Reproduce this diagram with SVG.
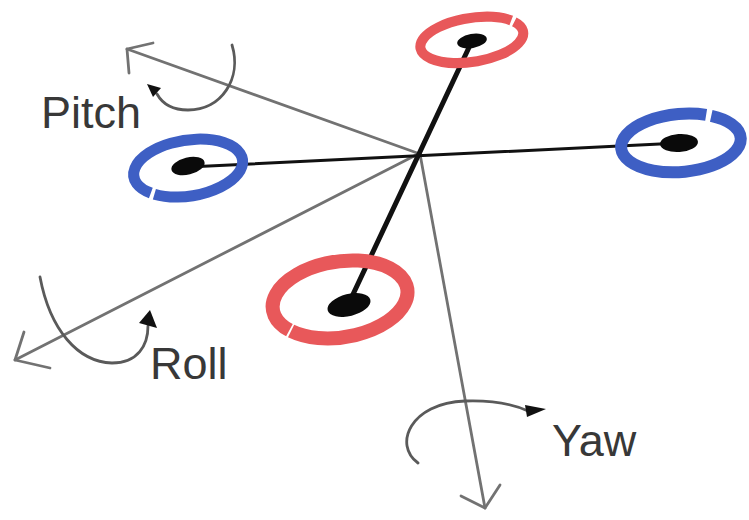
<svg xmlns="http://www.w3.org/2000/svg" width="749" height="520" viewBox="0 0 749 520">
  <style>
    .axis { fill: none; stroke: #727272; stroke-width: 2.8; stroke-linecap: round; stroke-linejoin: round; }
    .turn { fill: none; stroke: #5a5a5a; stroke-width: 2.8; stroke-linecap: round; }
    .tip { fill: #111; }
    .arm { stroke: #111; stroke-linecap: round; }
    .ring-red { fill: none; stroke: #e8585a; }
    .ring-blue { fill: none; stroke: #3e5fc4; }
    .hub { fill: #0a0a0a; }
    .label { font-family: "Liberation Sans", Arial, sans-serif; font-size: 45px; fill: #383838; }
  </style>
  <rect width="749" height="520" fill="#ffffff"/>

  <!-- body axes and rotation arrows -->
  <g id="connectors">
    <!-- pitch axis -->
    <line class="axis" x1="420" y1="154" x2="127" y2="49"/>
    <polyline class="axis" points="153,43 127,49 129,73"/>
    <!-- roll axis -->
    <line class="axis" x1="420" y1="153" x2="15" y2="360"/>
    <polyline class="axis" points="24,332 15,360 50,368"/>
    <!-- yaw axis -->
    <line class="axis" x1="420" y1="154" x2="485" y2="508"/>
    <polyline class="axis" points="461,496 485,508 500,485"/>

    <!-- pitch rotation -->
    <path class="turn" d="M232,45 C242,78 222,110 188,110 C172,110 162,103 157,94"/>
    <polygon class="tip" points="147,84 161,88 153,97"/>
    <!-- roll rotation -->
    <path class="turn" d="M40,277 C50,330 78,362 112,363 C138,363 148,345 148,326"/>
    <polygon class="tip" points="150,310 157,328 139,323"/>
    <!-- yaw rotation -->
    <path class="turn" d="M418,463 C393,445 410,403 465,401 C495,400 515,405 528,411"/>
    <polygon class="tip" points="525,405 546,409 527,417"/>

    <!-- airframe arms -->
    <line class="arm" x1="188" y1="167" x2="680" y2="143" stroke-width="3"/>
    <line class="arm" x1="472" y1="41" x2="348" y2="305" stroke-width="5"/>
  </g>

  <!-- rotors -->
  <g id="rotor-front">
    <g transform="translate(472,40) rotate(-9)">
      <path class="ring-red" stroke-width="10" d="M44.6,-11.3 A52,22 0 1 1 41.8,-13.1"/>
    </g>
    <ellipse class="hub" cx="472" cy="41" rx="15" ry="7" transform="rotate(-10 472 41)"/>
  </g>

  <g id="rotor-right">
    <g transform="translate(681,143) rotate(-5)">
      <path class="ring-blue" stroke-width="12" d="M32.5,-24.4 A60,29 0 1 1 27.5,-25.8"/>
    </g>
    <ellipse class="hub" cx="679" cy="143" rx="19" ry="9" transform="rotate(-4 679 143)"/>
  </g>

  <g id="rotor-left">
    <g transform="translate(188,168) rotate(-9)">
      <path class="ring-blue" stroke-width="11" d="M-40.6,18.9 A55,28 0 1 1 -37.3,20.6"/>
    </g>
    <ellipse class="hub" cx="188" cy="166" rx="17" ry="8.5" transform="rotate(-14 188 166)"/>
  </g>

  <g id="rotor-rear">
    <g transform="translate(350,306) rotate(-9)">
      <path class="ring-red" stroke-width="14" d="M-63.6,14.4 A68,38 0 1 1 -62.1,15.5"/>
    </g>
    <ellipse class="hub" cx="349" cy="305" rx="22" ry="11" transform="rotate(-14 349 305)"/>
  </g>

  <!-- labels -->
  <g id="label-pitch"><text class="label" x="41" y="128">Pitch</text></g>
  <g id="label-roll"><text class="label" x="150" y="379">Roll</text></g>
  <g id="label-yaw"><text class="label" x="552" y="456">Yaw</text></g>
</svg>
